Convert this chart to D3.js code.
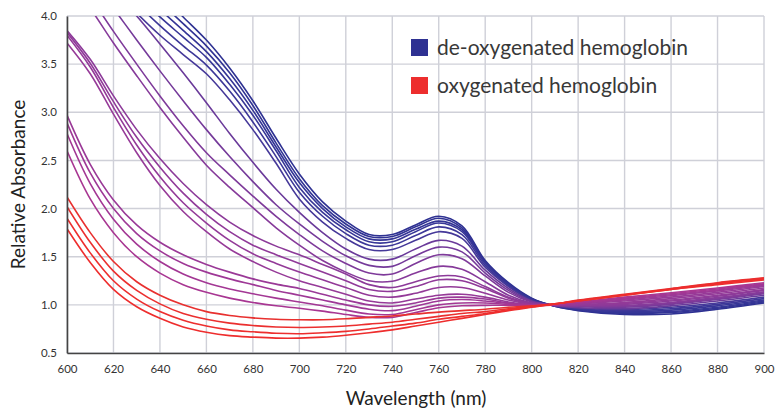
<!DOCTYPE html>
<html><head><meta charset="utf-8">
<script src="https://cdn.jsdelivr.net/npm/d3@7"></script>
<style>body{margin:0;background:#fff}</style>
</head><body><svg id="c" width="784" height="412"></svg>
<script>
const wavelengths = [600,610,620,630,640,650,660,670,680,690,700,710,720,730,740,750,760,770,780,790,800,810,820,840,860,880,900];
const xTicks = [600,620,640,660,680,700,720,740,760,780,800,820,840,860,880,900];
const yTicks = [0.5,1.0,1.5,2.0,2.5,3.0,3.5,4.0];
const legendLabels = ["de-oxygenated hemoglobin", "oxygenated hemoglobin"];

// de-oxygenated (blue) curves
const deoxy1 = [5.3,5.0,4.74,4.48,4.23,3.99,3.75,3.46,3.12,2.73,2.36,2.07,1.87,1.73,1.73,1.83,1.92,1.82,1.46,1.23,1.07,0.985,0.94,0.90,0.905,0.955,1.02];
const deoxy2 = [5.2,4.92,4.66,4.40,4.15,3.92,3.69,3.41,3.07,2.68,2.31,2.03,1.84,1.71,1.71,1.81,1.90,1.80,1.45,1.22,1.065,0.985,0.945,0.91,0.92,0.965,1.03];
const deoxy3 = [5.1,4.83,4.57,4.31,4.07,3.85,3.63,3.35,3.02,2.64,2.27,2.0,1.81,1.685,1.685,1.785,1.87,1.78,1.44,1.215,1.06,0.99,0.95,0.92,0.93,0.975,1.04];
const deoxy4 = [5.0,4.74,4.48,4.22,3.99,3.78,3.57,3.29,2.97,2.60,2.22,1.96,1.78,1.655,1.655,1.76,1.85,1.76,1.43,1.21,1.055,0.99,0.955,0.93,0.945,0.99,1.05];
const deoxy5 = [4.9,4.64,4.38,4.13,3.90,3.69,3.49,3.22,2.90,2.54,2.17,1.92,1.74,1.62,1.62,1.72,1.81,1.73,1.41,1.20,1.05,0.99,0.96,0.94,0.96,1.005,1.065];
const deoxy6 = [4.8,4.54,4.28,4.03,3.80,3.60,3.40,3.13,2.82,2.47,2.10,1.86,1.69,1.575,1.575,1.67,1.76,1.69,1.39,1.19,1.045,0.99,0.965,0.95,0.975,1.02,1.08];
// intermediate (purple) curves
const mixed1 = [5.0,4.6,4.27,4.0,3.71,3.41,3.10,2.78,2.48,2.20,1.96,1.75,1.58,1.475,1.475,1.58,1.67,1.61,1.36,1.17,1.04,0.99,0.97,0.96,0.99,1.04,1.10];
const mixed2 = [4.75,4.4,4.08,3.75,3.43,3.12,2.82,2.54,2.28,2.04,1.84,1.66,1.51,1.41,1.40,1.51,1.60,1.55,1.33,1.15,1.035,0.995,0.98,0.975,1.005,1.055,1.115];
const mixed3 = [4.55,4.2,3.84,3.50,3.17,2.86,2.58,2.35,2.13,1.92,1.73,1.56,1.43,1.33,1.32,1.43,1.52,1.48,1.30,1.13,1.03,0.995,0.985,0.985,1.015,1.065,1.125];
const mixed4 = [4.4,4.08,3.72,3.38,3.05,2.74,2.45,2.22,2.01,1.80,1.62,1.46,1.34,1.25,1.245,1.33,1.40,1.37,1.24,1.10,1.02,1.0,0.99,0.995,1.025,1.075,1.135];
const mixed5 = [3.85,3.55,3.17,2.82,2.52,2.26,2.04,1.86,1.72,1.61,1.52,1.42,1.32,1.21,1.18,1.24,1.30,1.29,1.19,1.08,1.015,1.0,0.995,1.005,1.04,1.09,1.15];
const mixed6 = [3.83,3.51,3.11,2.74,2.43,2.16,1.94,1.76,1.62,1.52,1.43,1.34,1.25,1.16,1.14,1.19,1.26,1.25,1.17,1.07,1.01,1.0,1.0,1.015,1.05,1.10,1.16];
const mixed7 = [3.80,3.47,3.05,2.66,2.33,2.06,1.85,1.67,1.53,1.43,1.34,1.26,1.18,1.10,1.08,1.12,1.18,1.18,1.12,1.05,1.005,1.0,1.005,1.025,1.065,1.115,1.175];
const mixed8 = [3.72,3.40,2.98,2.58,2.24,1.97,1.76,1.58,1.45,1.34,1.25,1.18,1.11,1.04,1.02,1.06,1.10,1.11,1.08,1.03,1.0,1.0,1.01,1.04,1.08,1.13,1.19];
const mixed9 = [2.97,2.46,2.09,1.83,1.65,1.52,1.42,1.34,1.27,1.215,1.17,1.11,1.05,1.0,0.985,1.02,1.07,1.08,1.06,1.02,1.0,1.0,1.015,1.05,1.095,1.145,1.20];
const mixed10 = [2.89,2.37,2.0,1.74,1.56,1.43,1.34,1.27,1.21,1.15,1.10,1.05,1.0,0.955,0.94,0.985,1.04,1.055,1.04,1.015,1.0,1.0,1.02,1.06,1.105,1.155,1.21];
const mixed11 = [2.78,2.26,1.89,1.63,1.45,1.32,1.23,1.165,1.115,1.07,1.03,0.99,0.945,0.905,0.90,0.95,1.0,1.02,1.02,1.005,0.995,1.0,1.025,1.07,1.115,1.165,1.22];
const mixed12 = [2.60,2.10,1.75,1.50,1.33,1.21,1.13,1.07,1.025,0.99,0.965,0.935,0.90,0.87,0.87,0.92,0.97,0.99,0.995,0.995,0.995,1.0,1.03,1.08,1.125,1.175,1.23];
// oxygenated (red) curves
const oxy1 = [2.12,1.75,1.45,1.24,1.10,1.0,0.93,0.89,0.865,0.85,0.845,0.845,0.855,0.87,0.885,0.905,0.925,0.94,0.955,0.975,0.99,1.01,1.05,1.11,1.17,1.23,1.28];
const oxy2 = [2.02,1.65,1.35,1.15,1.01,0.91,0.85,0.81,0.785,0.77,0.765,0.77,0.78,0.80,0.82,0.85,0.88,0.91,0.93,0.96,0.985,1.01,1.045,1.105,1.165,1.225,1.275];
const oxy3 = [1.90,1.54,1.25,1.06,0.93,0.84,0.78,0.74,0.72,0.705,0.70,0.71,0.725,0.75,0.78,0.81,0.85,0.88,0.91,0.95,0.98,1.01,1.04,1.10,1.16,1.22,1.27];
const oxy4 = [1.79,1.44,1.16,0.98,0.86,0.77,0.715,0.68,0.665,0.655,0.655,0.665,0.685,0.71,0.74,0.78,0.82,0.86,0.90,0.94,0.975,1.01,1.04,1.10,1.16,1.21,1.26];

const seriesList = [deoxy1,deoxy2,deoxy3,deoxy4,deoxy5,deoxy6,mixed1,mixed2,mixed3,mixed4,mixed5,mixed6,mixed7,mixed8,mixed9,mixed10,mixed11,mixed12,oxy1,oxy2,oxy3,oxy4];
const seriesColors = ["#2e3192","#313394","#343596","#373697","#3c3798","#453899",
  "#6a3a9a","#753a9a","#7e3a9a","#863a9a","#8c3a99","#903a99","#933a98","#963a98","#9a3997","#9e3896","#a33794","#a83692",
  "#e8302f","#eb2f2f","#ed2e2e","#ee2d2d"];
const legendColors = ["#2e3192","#ed2e2e"];

const svg = d3.select("#c");
const plot = {l:67, r:764, t:16, b:353};
const x = d3.scaleLinear().domain([600,900]).range([plot.l, plot.r]);
const y = d3.scaleLinear().domain([0.5,4.0]).range([plot.b, plot.t]);
const fontFam = "Lato, 'Open Sans', sans-serif";

// grid
const grid = svg.append("g");
grid.selectAll(".vg").data(xTicks).join("line")
  .attr("x1", d=>x(d)).attr("x2", d=>x(d)).attr("y1", plot.t).attr("y2", plot.b)
  .attr("stroke", "#cfd0d8").attr("stroke-width", 1.4);
grid.selectAll(".hg").data(yTicks).join("line")
  .attr("x1", plot.l).attr("x2", plot.r).attr("y1", d=>y(d)).attr("y2", d=>y(d))
  .attr("stroke", "#cfd0d8").attr("stroke-width", 1.4);

svg.append("defs").append("clipPath").attr("id","clip").append("rect")
  .attr("x", plot.l).attr("y", plot.t).attr("width", plot.r-plot.l).attr("height", plot.b-plot.t);

const line = d3.line().x((d,i)=>x(wavelengths[i])).y(d=>y(d)).curve(d3.curveCatmullRom.alpha(0.5));
svg.append("g").attr("clip-path","url(#clip)")
  .selectAll("path").data(seriesList).join("path")
  .attr("d", line).attr("fill","none")
  .attr("stroke", (d,i)=>seriesColors[i]).attr("stroke-width", 1.6);

// axes
const xAxis = svg.append("g").attr("transform", `translate(0,${plot.b})`)
  .call(d3.axisBottom(x).tickValues(xTicks).tickFormat(d3.format("d")).tickSize(0).tickPadding(12));
const yAxis = svg.append("g").attr("transform", `translate(${plot.l},0)`)
  .call(d3.axisLeft(y).tickValues(yTicks).tickFormat(d3.format(".1f")).tickSize(0).tickPadding(10));
[xAxis,yAxis].forEach(a=>{
  a.select(".domain").attr("stroke","#444").attr("stroke-width",1.6);
  a.selectAll("text").attr("font-family", fontFam).attr("font-size", 11.5).attr("fill","#333");
});

svg.append("text").attr("x", 416).attr("y", 405).attr("text-anchor","middle")
  .attr("font-family", fontFam).attr("font-size", 19).attr("fill","#222").text("Wavelength (nm)");
svg.append("text").attr("transform", `translate(25,${(plot.t+plot.b)/2}) rotate(-90)`).attr("text-anchor","middle")
  .attr("font-family", fontFam).attr("font-size", 19).attr("fill","#222").text("Relative Absorbance");

// legend
const lg = svg.append("g");
legendLabels.forEach((t,i)=>{
  lg.append("rect").attr("x", 411).attr("y", 39 + i*38).attr("width", 17).attr("height", 17).attr("fill", legendColors[i]);
  lg.append("text").attr("x", 437).attr("y", 55 + i*38).attr("font-family", fontFam).attr("font-size", 21)
    .attr("fill","#383838").text(t);
});
</script></body></html>
